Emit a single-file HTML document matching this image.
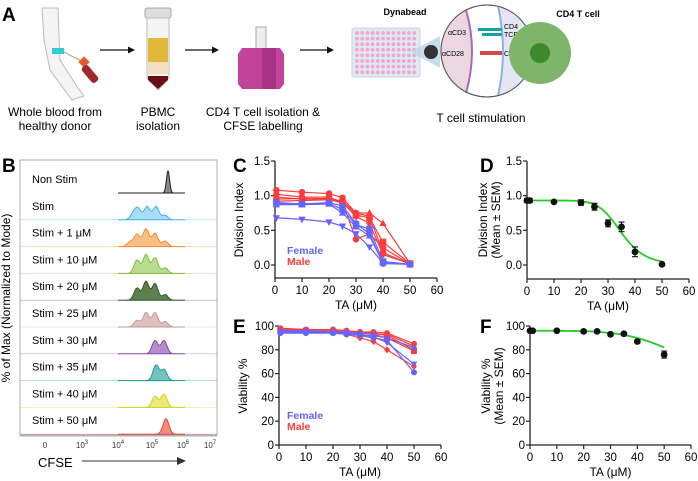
<!DOCTYPE html>
<html><head><meta charset="utf-8"><style>
html,body{margin:0;padding:0;background:#fff}
svg{display:block;font-family:"Liberation Sans",Arial,sans-serif}
</style></head><body>
<svg id="fig" width="698" height="481" viewBox="0 0 698 481">
<g>
<text x="2" y="21" font-size="19" font-weight="bold">A</text>
<g>
<path d="M42 8 L58 8 L60 60 L78 88 L84 96 L72 100 L66 92 L50 70 L44 40 Z" fill="#f4f4f4" stroke="#bbb" stroke-width="1"/>
<rect x="52" y="48" width="12" height="6" fill="#3cc" />
<path d="M64 52 Q75 58 80 60" stroke="#aaa" fill="none"/>
<rect x="80" y="58" width="8" height="8" fill="#e05a2a" transform="rotate(45 84 62)"/>
<rect x="86" y="64" width="8" height="20" rx="3" fill="#a02828" transform="rotate(-40 90 74)"/>
</g>
<text x="55" y="116" font-size="12" text-anchor="middle"><tspan x="55">Whole blood from</tspan><tspan x="55" dy="14">healthy donor</tspan></text>
<g><line x1="100" y1="50" x2="130" y2="50" stroke="#111" stroke-width="1.3"/><path d="M135 50 L128 46.5 L128 53.5 Z" fill="#111"/></g>
<g>
<rect x="145" y="8" width="26" height="10" rx="2" fill="#ddd" stroke="#aaa"/>
<path d="M147 18 L169 18 L169 78 L158 90 L147 78 Z" fill="#f4f4f4" stroke="#bbb"/>
<rect x="148" y="38" width="20" height="24" fill="#e0b83a"/>
<rect x="148" y="62" width="20" height="12" fill="#f2dfc2"/>
<path d="M148 76 L168 76 L168 80 L158 89 L148 80 Z" fill="#6a0d10"/>
</g>
<text x="158" y="116" font-size="12" text-anchor="middle"><tspan x="158">PBMC</tspan><tspan x="158" dy="14">isolation</tspan></text>
<g><line x1="185" y1="50" x2="214" y2="50" stroke="#111" stroke-width="1.3"/><path d="M219 50 L212 46.5 L212 53.5 Z" fill="#111"/></g>
<g>
<rect x="256" y="27" width="10" height="22" fill="#eee" stroke="#aaa"/>
<path d="M242 48 L280 48 L284 54 L284 84 L280 89 L242 89 L238 84 L238 54 Z" fill="#c2449a"/>
<rect x="262" y="48" width="14" height="41" fill="#a83485"/>
</g>
<text x="263" y="116" font-size="12" text-anchor="middle"><tspan x="263">CD4 T cell isolation &amp;</tspan><tspan x="263" dy="14">CFSE labelling</tspan></text>
<g><line x1="300" y1="50" x2="329" y2="50" stroke="#111" stroke-width="1.3"/><path d="M334 50 L327 46.5 L327 53.5 Z" fill="#111"/></g>
<g>
<rect x="352" y="28" width="68" height="49" rx="2" fill="#dfeaf0" stroke="#c5d5de"/>
<g id="wells"></g>
<path d="M410 52 L440 36 L440 68 Z" fill="#bcd6e6" opacity="0.8"/>
<circle cx="431" cy="52" r="7" fill="#333"/>
</g>
<g>
<circle cx="487" cy="51" r="46" fill="#fff" stroke="#555" stroke-width="1"/>
<path d="M466 10 Q478 51 466 93 A46 46 0 0 1 466 10 Z" fill="#ead7e0"/>
<path d="M498 6 Q508 51 498 96 A46 46 0 0 0 498 6 Z" fill="#e4e6f4"/>
<path d="M466 10 Q478 51 466 93" stroke="#a86bb0" stroke-width="2" fill="none"/>
<path d="M498 6 Q508 51 498 96" stroke="#8fb0e0" stroke-width="2" fill="none"/>
<circle cx="487" cy="51" r="46" fill="none" stroke="#555" stroke-width="1"/>
<rect x="478" y="28" width="24" height="3" fill="#1aa0a8"/><rect x="482" y="33" width="20" height="3" fill="#1aa0a8"/>
<rect x="480" y="51" width="22" height="4" fill="#d24a4a"/>
<text x="448" y="35" font-size="7">αCD3</text>
<text x="442" y="56" font-size="7">αCD28</text>
<text x="504" y="29" font-size="7">CD4</text>
<text x="504" y="37" font-size="7">TCR</text>
<text x="504" y="56" font-size="7">CD28</text>
<circle cx="540" cy="53" r="31" fill="#7fb56a"/>
<circle cx="540" cy="53" r="10" fill="#3d8a2a"/>
</g>
<text x="405" y="15" font-size="9" font-weight="bold" text-anchor="middle">Dynabead</text>
<text x="578" y="17" font-size="9" font-weight="bold" text-anchor="middle">CD4 T cell</text>
<text x="481" y="122" font-size="12" text-anchor="middle">T cell stimulation</text>
</g>

<g id="panelB">
<text x="2" y="172" font-size="19" font-weight="bold">B</text>
<rect x="20" y="160" width="197" height="275" fill="none" stroke="#999" stroke-width="0.8"/>
<text transform="translate(10,298) rotate(-90)" font-size="12" text-anchor="middle">% of Max (Normalized to Mode)</text>
<text x="38" y="467" font-size="13">CFSE</text>
<g><line x1="82" y1="461" x2="178" y2="461" stroke="#333" stroke-width="1"/><path d="M186 461 L177 457 L177 465 Z" fill="#333"/></g>
</g>

<g id="panelC"><text x="233" y="172" font-size="19" font-weight="bold">C</text></g>
<g id="panelD"><text x="480" y="172" font-size="19" font-weight="bold">D</text></g>
<g id="panelE"><text x="233" y="333" font-size="19" font-weight="bold">E</text></g>
<g id="panelF"><text x="480" y="333" font-size="19" font-weight="bold">F</text></g>
</svg>
<script>
const NS="http://www.w3.org/2000/svg";
function mk(parent,tag,attrs,text){const e=document.createElementNS(NS,tag);for(const k in attrs)e.setAttribute(k,attrs[k]);if(text!==undefined)e.textContent=text;parent.appendChild(e);return e;}

// wells
const wells=document.getElementById('wells');
for(let r=0;r<8;r++)for(let c=0;c<12;c++){const w=mk(wells,'circle',{cx:357+c*5.2,cy:33+r*5.6,r:1.9,fill:'#f3a6d2'});

}

// ---- Panel B data ----
const histLabels=["Non Stim","Stim","Stim + 1 μM","Stim + 10 μM","Stim + 20 μM","Stim + 25 μM","Stim + 30 μM","Stim + 35 μM","Stim + 40 μM","Stim + 50 μM"];
const histPeaks=[[[168,1.0]],[[133,0.25],[138,0.5],[147,0.6],[156,0.6],[165,0.2]],[[130,0.2],[137,0.55],[146,0.8],[155,0.6],[165,0.25]],[[137,0.6],[146,0.85],[155,0.7],[165,0.25]],[[137,0.55],[146,0.85],[155,0.75],[165,0.25]],[[137,0.3],[146,0.65],[155,0.65],[165,0.25]],[[155,0.6],[164,0.6]],[[156,0.7],[164,0.5]],[[155,0.5],[164,0.6]],[[166,0.7]]];
const histStroke=["#222","#3bb3e8","#f08a2a","#7cbf3a","#2f5a22","#c29a95","#8b4aa8","#1b9a92","#cfcf22","#e0463a"];
const histFill=["#888","#a8ddf5","#fbbf85","#b9dc92","#5e7f50","#dcc1bd","#b58ccc","#74c4bd","#eaeb7a","#f28a80"];
const B=document.getElementById('panelB');
const rowH=26.8, baseY0=193;
histLabels.forEach((lab,i)=>{
  const by=baseY0+i*rowH;
  const t=mk(B,'text',{x:32,y:by-10,'font-size':11},lab);
  
  
  if(i>0){const sep=mk(B,'line',{x1:20,x2:217,y1:by,y2:by,stroke:histStroke[i],'stroke-width':0.6,opacity:0.5});}
  let d='M118 '+by; const sig=i==0?1.6:3;
  for(let x=118;x<=185;x+=0.5){let v=0;histPeaks[i].forEach(p=>{v+=p[1]*Math.exp(-((x-p[0])**2)/(2*sig*sig));});d+=' L'+x+' '+(by-Math.min(v,1)*22).toFixed(2);}
  d+=' L185 '+by+' Z';
  const h=mk(B,'path',{d:d,fill:histFill[i],stroke:histStroke[i],'stroke-width':1});
  
  
});
const cfseTicks=[["0",45],["10","3",82],["10","4",118],["10","5",152],["10","6",183],["10","7",210]];
mk(B,'line',{x1:20,x2:217,y1:436,y2:436,stroke:'#666','stroke-width':0.6});
cfseTicks.forEach(t=>{
  const x=t.length==2?t[1]:t[2];
  const tx=mk(B,'text',{x:x,y:448,'font-size':8,'text-anchor':'middle',fill:'#333'},t[0]);
  
  
  if(t.length==3){mk(tx,'tspan',{dy:-4,'font-size':6},t[1]);}
});

// ---- Panel C data ----
const cX=[0.5,10,20,25,30,35,40,50];
const cFemale=[[0.68,0.66,0.62,0.56,0.45,0.26,0.03,0.01],[0.88,0.88,0.90,0.85,0.60,0.45,0.02,0.01],[0.90,0.88,0.89,0.80,0.58,0.52,0.05,0.01],[0.87,0.87,0.88,0.75,0.55,0.42,0.03,0.01]];
const cMale=[[1.08,1.05,1.03,0.97,0.75,0.70,0.18,0.01],[0.95,0.96,0.96,0.92,0.75,0.75,0.60,0.02],[0.92,0.93,0.94,0.90,0.72,0.68,0.33,0.02],[1.02,0.98,0.98,0.90,0.37,0.45,0.25,0.01],[0.98,0.95,0.95,0.90,0.70,0.60,0.15,0.02]];
const cFemaleMarkers=['tri-down','circle','square','tri-up'];
const cMaleMarkers=['circle','tri-up','square','circle','diamond'];
// ---- Panel D data ----
const dX=[0,1,10,20,25,30,35,40,50];
const dMean=[0.93,0.93,0.91,0.90,0.84,0.60,0.55,0.19,0.01];
const dSem=[0.03,0.03,0.0,0.04,0.05,0.05,0.07,0.07,0.0];
const dFit={top:0.93,bottom:0,ic50:35,hill:8};
// ---- Panel E data ----
const eX=[0.5,10,20,25,30,35,40,50];
const eFemale=[[94,94,94,93,92,90,88,61],[95,95,95,94,93,91,86,68],[96,96,95,95,94,93,90,82]];
const eMale=[[98,97,97,96,95,95,94,85],[97,96,96,95,94,93,93,83],[96,96,95,94,92,92,90,79],[97,96,95,93,90,87,80,66],[98,97,97,96,95,94,92,80]];
const eFemaleMarkers=['circle','tri-down','tri-up'];
const eMaleMarkers=['circle','tri-up','square','diamond','circle'];
// ---- Panel F data ----
const fX=[0,1,10,20,25,30,35,40,50];
const fMean=[96,96,96,95.5,95.5,93,93.5,87,76];
const fSem=[1,1,0.5,1,1,1,1,1,3];
const fFit={top:96,bottom:0,ic50:76,hill:4.2};
const xTicks=[0,10,20,30,40,50,60];

const RED='#ff3b3b', BLUE='#6464ff';
function axes(g,o){
  const sx=v=>o.x0+(v-0)/60*(o.x1-o.x0);
  const sy=v=>o.y0+(v-o.ymin)/(o.ymax-o.ymin)*(o.y1-o.y0);
  const ya=mk(g,'line',{x1:o.x0,x2:o.x0,y1:sy(o.ymax),y2:o.axY,stroke:'#222','stroke-width':1.3});
  
  const xa=mk(g,'line',{x1:o.x0,x2:o.x1,y1:o.axY,y2:o.axY,stroke:'#222','stroke-width':1.3});
  
  o.yTicks.forEach((t,i)=>{const y=sy(t);mk(g,'line',{x1:o.x0-4,x2:o.x0,y1:y,y2:y,stroke:'#222','stroke-width':1.2});
    const tl=mk(g,'text',{x:o.x0-5,y:y+4,'font-size':11.5,'text-anchor':'end'},o.yLabels[i]);
    });
  xTicks.forEach(t=>{const x=sx(t);mk(g,'line',{x1:x,x2:x,y1:o.axY,y2:o.axY+4,stroke:'#222','stroke-width':1.2});
    const tl=mk(g,'text',{x:x,y:o.axY+16,'font-size':11.5,'text-anchor':'middle'},String(t));
    });
  const xt=mk(g,'text',{x:(o.x0+o.x1)/2,y:o.axY+31,'font-size':12,'text-anchor':'middle'},'TA (μM)');
  
  o.yTitle.forEach((s,i)=>{const yt=mk(g,'text',{transform:`translate(${o.tx+i*13},${o.ty}) rotate(-90)`,'font-size':12,'text-anchor':'middle'},s);
    });
  return {sx,sy};
}
function marker(g,type,x,y,c,r){
  let e;
  if(type=='circle')e=mk(g,'circle',{cx:x,cy:y,r:r,fill:c});
  else if(type=='square')e=mk(g,'rect',{x:x-r,y:y-r,width:2*r,height:2*r,fill:c});
  else if(type=='tri-up')e=mk(g,'path',{d:`M${x} ${y-r*1.2} L${x+r*1.1} ${y+r*0.8} L${x-r*1.1} ${y+r*0.8} Z`,fill:c});
  else if(type=='tri-down')e=mk(g,'path',{d:`M${x} ${y+r*1.2} L${x+r*1.1} ${y-r*0.8} L${x-r*1.1} ${y-r*0.8} Z`,fill:c});
  else e=mk(g,'path',{d:`M${x} ${y-r*1.2} L${x+r} ${y} L${x} ${y+r*1.2} L${x-r} ${y} Z`,fill:c});
  
  
}
function series(g,s,xs,ys,c,m,r,name){
  const pl=mk(g,'polyline',{points:xs.map((x,i)=>s.sx(x)+','+s.sy(ys[i])).join(' '),fill:'none',stroke:c,'stroke-width':1.2});
  
  
  xs.forEach((x,i)=>marker(g,m,s.sx(x),s.sy(ys[i]),c,r));
}
function legend(g,x,y){
  const f=mk(g,'text',{x:x,y:y,'font-size':10.5,'font-weight':'bold',fill:BLUE},'Female');
  
  const m=mk(g,'text',{x:x,y:y+11,'font-size':10.5,'font-weight':'bold',fill:RED},'Male');
  
}
function fitCurve(g,s,p,xmax){
  let d='';for(let x=0;x<=xmax;x+=0.5){const v=p.bottom+(p.top-p.bottom)/(1+Math.pow(x/p.ic50,p.hill));d+=(d?' L':'M')+s.sx(x).toFixed(2)+' '+s.sy(v).toFixed(2);}
  const c=mk(g,'path',{d:d,fill:'none',stroke:'#22cc22','stroke-width':1.8});
  
}
function meanPts(g,s,xs,ms,es){
  xs.forEach((x,i)=>{const X=s.sx(x);
    if(es[i]>0){const e=mk(g,'path',{d:`M${X} ${s.sy(ms[i]-es[i])} L${X} ${s.sy(ms[i]+es[i])} M${X-3} ${s.sy(ms[i]-es[i])} L${X+3} ${s.sy(ms[i]-es[i])} M${X-3} ${s.sy(ms[i]+es[i])} L${X+3} ${s.sy(ms[i]+es[i])}`,stroke:'#111','stroke-width':1.1,fill:'none'});
      }
    marker(g,'circle',X,s.sy(ms[i]),'#111',3.4);});
}
// C
const gC=document.getElementById('panelC');
const sC=axes(gC,{x0:275,x1:437,ymin:0,ymax:1.5,y0:265,y1:161,axY:278,yTicks:[0,0.5,1,1.5],yLabels:['0.0','0.5','1.0','1.5'],yTitle:['Division Index'],tx:243,ty:220});
cMale.forEach((ys,i)=>series(gC,sC,cX,ys,RED,cMaleMarkers[i],3.3,'male-donor-line'));
cFemale.forEach((ys,i)=>series(gC,sC,cX,ys,BLUE,cFemaleMarkers[i],3.3,'female-donor-line'));
legend(gC,287,254);
// D
const gD=document.getElementById('panelD');
const sD=axes(gD,{x0:527,x1:689,ymin:0,ymax:1.5,y0:265,y1:161,axY:279,yTicks:[0,0.5,1,1.5],yLabels:['0.0','0.5','1.0','1.5'],yTitle:['Division Index','(Mean ± SEM)'],tx:487,ty:220});
fitCurve(gD,sD,dFit,50);
meanPts(gD,sD,dX,dMean,dSem);
// E
const gE=document.getElementById('panelE');
const sE=axes(gE,{x0:279,x1:441,ymin:0,ymax:100,y0:445,y1:326,axY:445,yTicks:[0,20,40,60,80,100],yLabels:['0','20','40','60','80','100'],yTitle:['Viability %'],tx:247,ty:386});
eMale.forEach((ys,i)=>series(gE,sE,eX,ys,RED,eMaleMarkers[i],3,'male-donor-line'));
eFemale.forEach((ys,i)=>series(gE,sE,eX,ys,BLUE,eFemaleMarkers[i],3,'female-donor-line'));
legend(gE,287,419);
// F
const gF=document.getElementById('panelF');
const sF=axes(gF,{x0:530,x1:691,ymin:0,ymax:100,y0:445,y1:326,axY:445,yTicks:[0,20,40,60,80,100],yLabels:['0','20','40','60','80','100'],yTitle:['Viability %','(Mean ± SEM)'],tx:490,ty:386});
fitCurve(gF,sF,fFit,50);
meanPts(gF,sF,fX,fMean,fSem);
</script>
</body></html>
